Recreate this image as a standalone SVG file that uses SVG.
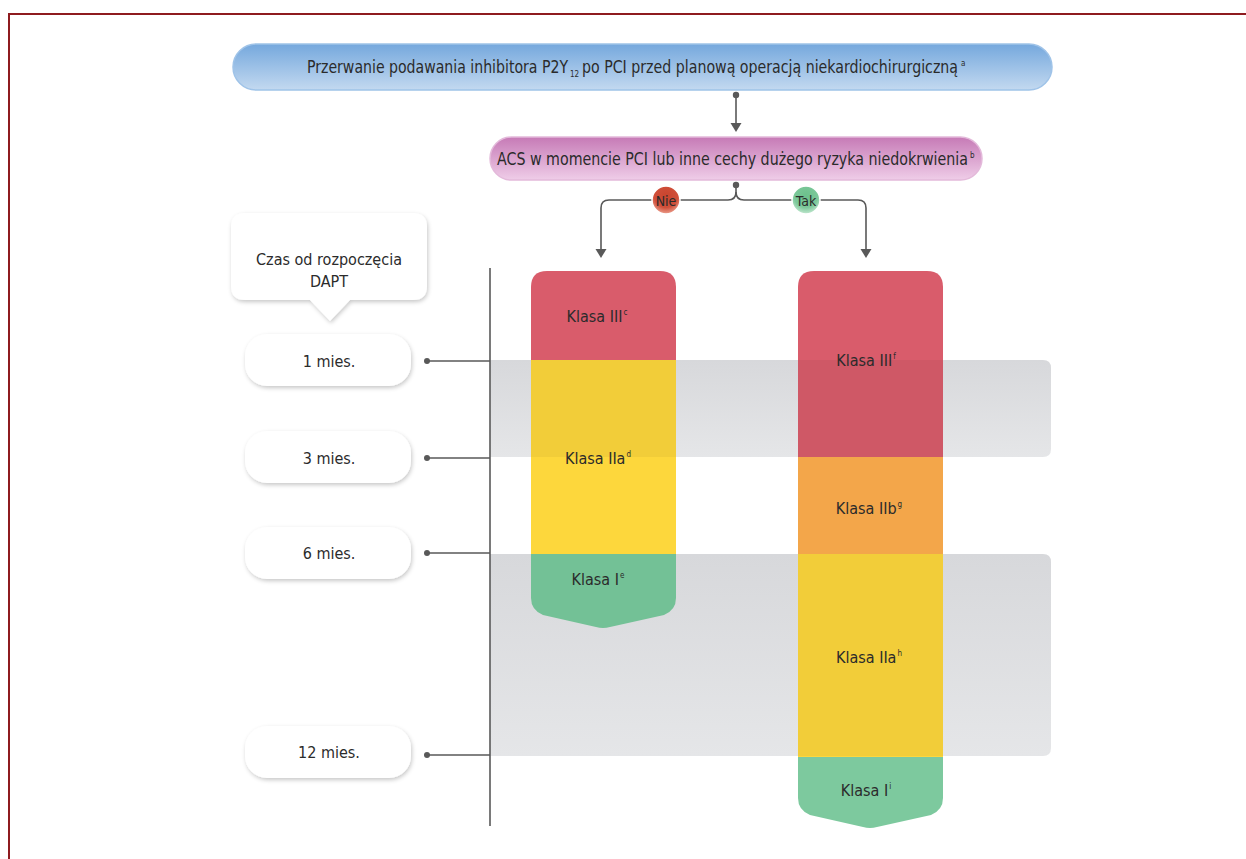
<svg xmlns="http://www.w3.org/2000/svg" width="1246" height="859" viewBox="0 0 1246 859">
  <style>
    .t { font-family: "Liberation Sans Narrow", "DejaVu Sans Condensed", "Liberation Sans", sans-serif; fill: #2b2b2b; text-anchor: middle; }
    .s { text-anchor: start; }
    .lbl { font-size: 16px; }
    .sup { font-size: 8px; }
    .ln { stroke: #595959; stroke-width: 1.6; fill: none; }
    .dot { fill: #595959; }
    .pill { fill: #ffffff; filter: url(#shadow); }
    .shade { fill: #000000; fill-opacity: 0.045; }
  </style>
  <defs>
    <linearGradient id="gBlue" x1="0" y1="0" x2="0" y2="1">
      <stop offset="0" stop-color="#75a8dd"/>
      <stop offset="1" stop-color="#c3d9f0"/>
    </linearGradient>
    <linearGradient id="gPink" x1="0" y1="0" x2="0" y2="1">
      <stop offset="0" stop-color="#c67ab6"/>
      <stop offset="1" stop-color="#efcde8"/>
    </linearGradient>
    <linearGradient id="gBand" x1="0" y1="0" x2="0" y2="1">
      <stop offset="0" stop-color="#d7d8db"/>
      <stop offset="1" stop-color="#e5e6e8"/>
    </linearGradient>
    <radialGradient id="gNie" cx="0.5" cy="0.35" r="0.7">
      <stop offset="0" stop-color="#c8442e"/>
      <stop offset="0.6" stop-color="#d0503a"/>
      <stop offset="1" stop-color="#f2b2a2"/>
    </radialGradient>
    <radialGradient id="gTak" cx="0.5" cy="0.35" r="0.7">
      <stop offset="0" stop-color="#6cc08c"/>
      <stop offset="0.6" stop-color="#7cc89a"/>
      <stop offset="1" stop-color="#d4efdd"/>
    </radialGradient>
    <filter id="shadow" x="-20%" y="-20%" width="140%" height="150%">
      <feDropShadow dx="1" dy="2" stdDeviation="2" flood-color="#000" flood-opacity="0.22"/>
    </filter>
  </defs>

  <!-- page frame -->
  <path d="M9,859 V14 H1246" fill="none" stroke="#8e1b1f" stroke-width="2"/>

  <!-- grey time bands -->
  <g id="bands">
    <path d="M490,360 H1043 Q1051,360 1051,368 V449 Q1051,457 1043,457 H490 Z" fill="url(#gBand)"/>
    <path d="M490,554 H1043 Q1051,554 1051,562 V748 Q1051,756 1043,756 H490 Z" fill="url(#gBand)"/>
  </g>

  <!-- connectors -->
  <g id="connectors">
    <circle class="dot" cx="736" cy="95" r="3.2"/>
    <line class="ln" x1="736" y1="95" x2="736" y2="124"/>
    <path d="M730.5,123 H741.5 L736,132 Z" fill="#595959"/>

    <circle class="dot" cx="736" cy="185" r="3.2"/>
    <path class="ln" d="M736,185 V192 Q736,200 728,200 H609 Q601,200 601,208 V250"/>
    <path class="ln" d="M736,192 Q736,200 744,200 H858 Q866,200 866,208 V250"/>
    <path d="M595.5,249 H606.5 L601,258 Z" fill="#595959"/>
    <path d="M860.5,249 H871.5 L866,258 Z" fill="#595959"/>

    <!-- time axis -->
    <line class="ln" x1="490" y1="268" x2="490" y2="826"/>
    <circle class="dot" cx="427" cy="361" r="3"/>
    <line class="ln" x1="427" y1="361" x2="490" y2="361"/>
    <circle class="dot" cx="427" cy="458" r="3"/>
    <line class="ln" x1="427" y1="458" x2="490" y2="458"/>
    <circle class="dot" cx="427" cy="553" r="3"/>
    <line class="ln" x1="427" y1="553" x2="490" y2="553"/>
    <circle class="dot" cx="427" cy="755" r="3"/>
    <line class="ln" x1="427" y1="755" x2="490" y2="755"/>
  </g>

  <!-- top decision -->
  <g id="node-start">
    <rect x="233" y="44" width="819" height="46" rx="23" fill="url(#gBlue)" stroke="#9fc3e8" stroke-width="1.5"/>
    <text class="t s" x="307" y="73" font-size="17.5" textLength="261" lengthAdjust="spacingAndGlyphs">Przerwanie podawania inhibitora P2Y</text>
    <text class="t s" x="570" y="77" font-size="8">12</text>
    <text class="t s" x="582" y="73" font-size="17.5" textLength="376" lengthAdjust="spacingAndGlyphs">po PCI przed planową operacją niekardiochirurgiczną</text>
    <text class="t s" x="961" y="66" font-size="8">a</text>
  </g>

  <g id="node-acs">
    <rect x="490" y="137" width="492" height="43" rx="21.5" fill="url(#gPink)" stroke="#e3b9da" stroke-width="1.5"/>
    <text class="t s" x="497" y="165" font-size="17.5" textLength="471" lengthAdjust="spacingAndGlyphs">ACS w momencie PCI lub inne cechy dużego ryzyka niedokrwienia</text>
    <text class="t s" x="970" y="158" font-size="8">b</text>
  </g>

  <g id="badge-nie">
    <circle cx="666" cy="200" r="14" fill="url(#gNie)" stroke="#ffffff" stroke-width="1.5"/>
    <text class="t" x="666" y="205.5" font-size="14">Nie</text>
  </g>
  <g id="badge-tak">
    <circle cx="806" cy="200" r="14" fill="url(#gTak)" stroke="#ffffff" stroke-width="1.5"/>
    <text class="t" x="806" y="205.5" font-size="14">Tak</text>
  </g>

  <!-- time axis labels -->
  <g id="node-time-title">
    <path class="pill" d="M245,213 H413 Q427,213 427,227 V286 Q427,300 413,300 H350 L330,321 L310,300 H245 Q231,300 231,286 V227 Q231,213 245,213 Z"/>
    <text class="t lbl" x="329" y="265">Czas od rozpoczęcia</text>
    <text class="t lbl" x="329" y="287">DAPT</text>
  </g>
  <g id="node-1m">
    <rect class="pill" x="245" y="334" width="166" height="52" rx="22"/>
    <text class="t lbl" x="329" y="367">1 mies.</text>
  </g>
  <g id="node-3m">
    <rect class="pill" x="245" y="431" width="166" height="52" rx="22"/>
    <text class="t lbl" x="329" y="464">3 mies.</text>
  </g>
  <g id="node-6m">
    <rect class="pill" x="245" y="527" width="166" height="52" rx="22"/>
    <text class="t lbl" x="329" y="559">6 mies.</text>
  </g>
  <g id="node-12m">
    <rect class="pill" x="245" y="726" width="166" height="52" rx="22"/>
    <text class="t lbl" x="329" y="758">12 mies.</text>
  </g>

  <!-- left column: no high ischaemic risk -->
  <g id="column-nie">
    <path d="M531,360 V287 Q531,271 547,271 H660 Q676,271 676,287 V360 Z" fill="#d95c6b"/>
    <rect x="531" y="360" width="145" height="194" fill="#fdd73c"/>
    <path d="M531,554 H676 V598 Q676,610 664,615 L610,627 Q603,629 596,627 L543,615 Q531,610 531,598 Z" fill="#73c196"/>
    <rect class="shade" x="531" y="360" width="145" height="97"/>
    <text class="t lbl" x="597" y="322">Klasa III<tspan class="sup" dx="1" dy="-7">c</tspan></text>
    <text class="t lbl" x="598" y="464">Klasa IIa<tspan class="sup" dx="1" dy="-7">d</tspan></text>
    <text class="t lbl" x="598" y="585">Klasa I<tspan class="sup" dx="1" dy="-7">e</tspan></text>
  </g>

  <!-- right column: high ischaemic risk -->
  <g id="column-tak">
    <path d="M798,457 V287 Q798,271 814,271 H927 Q943,271 943,287 V457 Z" fill="#d95c6b"/>
    <rect x="798" y="457" width="145" height="97" fill="#f3a64a"/>
    <rect x="798" y="554" width="145" height="203" fill="#fdd73c"/>
    <path d="M798,757 H943 V798 Q943,810 931,815 L877,827 Q870,829 863,827 L810,815 Q798,810 798,798 Z" fill="#7dc99e"/>
    <rect class="shade" x="798" y="360" width="145" height="97"/>
    <rect class="shade" x="798" y="554" width="145" height="202"/>
    <text class="t lbl" x="866" y="366">Klasa III<tspan class="sup" dx="1" dy="-7">f</tspan></text>
    <text class="t lbl" x="869" y="514">Klasa IIb<tspan class="sup" dx="1" dy="-7">g</tspan></text>
    <text class="t lbl" x="869" y="663">Klasa IIa<tspan class="sup" dx="1" dy="-7">h</tspan></text>
    <text class="t lbl" x="866" y="796">Klasa I<tspan class="sup" dx="1" dy="-7">i</tspan></text>
  </g>
</svg>
